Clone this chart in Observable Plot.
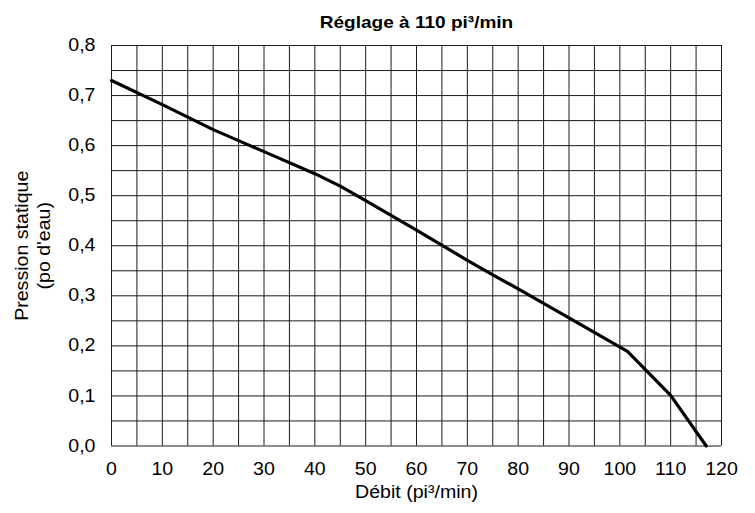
<!DOCTYPE html>
<html><head><meta charset="utf-8">
<script src="https://cdn.jsdelivr.net/npm/d3@7"></script>
<script src="https://cdn.jsdelivr.net/npm/@observablehq/plot@0.6"></script>
<style>body{margin:0;background:#fff} svg{display:block}</style>
</head><body><div id="chart"></div>
<script>
const flow = [0, 10, 20, 25, 30, 40, 45, 50, 60, 70, 75, 80, 90, 101.5, 110, 117];
const pressure = [0.73, 0.682, 0.632, 0.61, 0.588, 0.544, 0.519, 0.49, 0.431, 0.371, 0.342, 0.314, 0.256, 0.189, 0.101, 0];
const xTicks = [0, 10, 20, 30, 40, 50, 60, 70, 80, 90, 100, 110, 120];
const yTicks = [0, 0.1, 0.2, 0.3, 0.4, 0.5, 0.6, 0.7, 0.8];
const xGrid = [0, 5, 10, 15, 20, 25, 30, 35, 40, 45, 50, 55, 60, 65, 70, 75, 80, 85, 90, 95, 100, 105, 110, 115, 120];
const yGrid = [0, 0.05, 0.1, 0.15, 0.2, 0.25, 0.3, 0.35, 0.4, 0.45, 0.5, 0.55, 0.6, 0.65, 0.7, 0.75, 0.8];
const title = "Réglage à 110 pi³/min";
const xLabel = "Débit (pi³/min)";
const yLabel1 = "Pression statique";
const yLabel2 = "(po d'eau)";

const data = flow.map((x, i) => ({x, y: pressure[i]}));
const chart = Plot.plot({
  width: 755, height: 513,
  marginLeft: 111, marginRight: 34, marginTop: 45, marginBottom: 67.5,
  style: {fontFamily: "'Liberation Sans', Arial, sans-serif", fontSize: "17.5px", color: "#000", background: "#fff"},
  x: {domain: [0, 120], ticks: xTicks, tickSize: 0, tickPadding: 17, label: null},
  y: {domain: [0, 0.8], ticks: yTicks, tickSize: 0, tickPadding: 16, label: null, tickFormat: d => d.toFixed(1).replace(".", ",")},
  marks: [
    Plot.ruleX(xGrid, {stroke: "#1a1a1a", strokeWidth: 1}),
    Plot.ruleY(yGrid, {stroke: "#1a1a1a", strokeWidth: 1}),
    Plot.line(data, {x: "x", y: "y", stroke: "#000", strokeWidth: 3.2}),
    Plot.text([title], {text: d => d, frameAnchor: "top", dy: -29.5, fontWeight: "bold", fontSize: 17}),
    Plot.text([xLabel], {text: d => d, frameAnchor: "bottom", dy: 52}),
    Plot.text([yLabel1], {text: d => d, frameAnchor: "left", textAnchor: "middle", dx: -89.5, rotate: -90}),
    Plot.text([yLabel2], {text: d => d, frameAnchor: "left", textAnchor: "middle", dx: -67.5, rotate: -90})
  ]
});
// widen glyphs along reading direction to match reference typography
chart.querySelectorAll("text").forEach(t => {
  const tr = t.getAttribute("transform") || "";
  if (tr.includes("translate")) {
    t.setAttribute("transform", tr + " scale(1.12,1)");
  } else {
    const x = +t.getAttribute("x") || 0;
    t.setAttribute("transform", `translate(${x},0) scale(1.12,1) translate(${-x},0)`);
  }
});
document.getElementById("chart").appendChild(chart);
</script>
</body></html>
